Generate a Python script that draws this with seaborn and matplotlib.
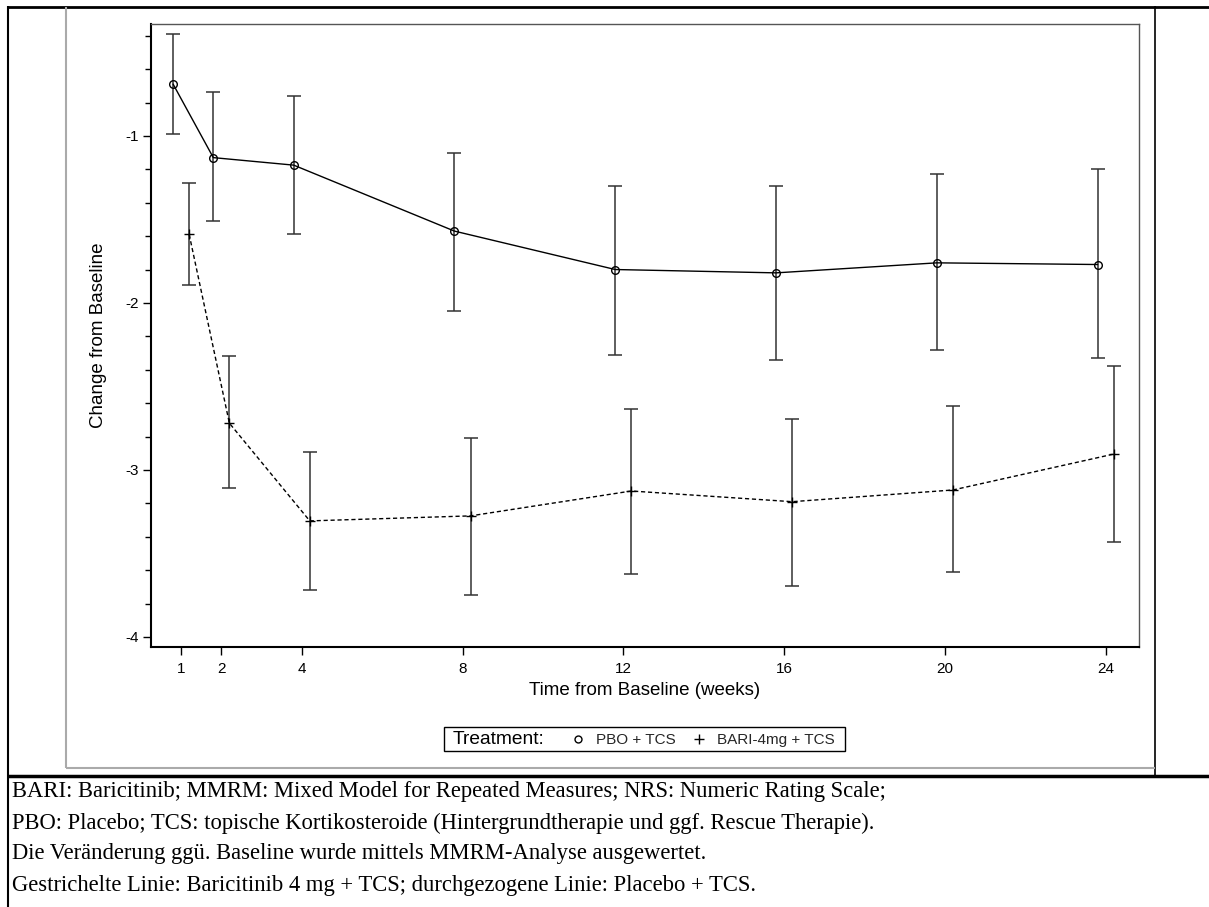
import numpy as np
import pandas as pd
import matplotlib
matplotlib.use("Agg")
import matplotlib.pyplot as plt
from matplotlib.lines import Line2D
from matplotlib.patches import Rectangle
import seaborn as sns

# ---------------- data ----------------
weeks = [1, 2, 4, 8, 12, 16, 20, 24]
pbo_mean = [-0.69, -1.13, -1.175, -1.57, -1.80, -1.82, -1.76, -1.77]
pbo_lower = [-0.99, -1.51, -1.59, -2.05, -2.31, -2.34, -2.28, -2.33]
pbo_upper = [-0.39, -0.74, -0.76, -1.10, -1.30, -1.30, -1.23, -1.20]
bari_mean = [-1.59, -2.72, -3.305, -3.275, -3.126, -3.19, -3.12, -2.905]
bari_lower = [-1.89, -3.11, -3.72, -3.75, -3.62, -3.695, -3.61, -3.43]
bari_upper = [-1.28, -2.32, -2.89, -2.81, -2.635, -2.695, -2.62, -2.38]
groups = ["PBO + TCS", "BARI-4mg + TCS"]
x_ticks = [1, 2, 4, 8, 12, 16, 20, 24]
y_ticks = [-1, -2, -3, -4]
footnotes = [
    "BARI: Baricitinib; MMRM: Mixed Model for Repeated Measures; NRS: Numeric Rating Scale;",
    "PBO: Placebo; TCS: topische Kortikosteroide (Hintergrundtherapie und ggf. Rescue Therapie).",
    "Die Veränderung ggü. Baseline wurde mittels MMRM-Analyse ausgewertet.",
    "Gestrichelte Linie: Baricitinib 4 mg + TCS; durchgezogene Linie: Placebo + TCS.",
]

offsets = {groups[0]: -0.2, groups[1]: 0.2}
df = pd.concat([
    pd.DataFrame({"week": weeks, "mean": pbo_mean, "lower": pbo_lower,
                  "upper": pbo_upper, "Treatment": groups[0]}),
    pd.DataFrame({"week": weeks, "mean": bari_mean, "lower": bari_lower,
                  "upper": bari_upper, "Treatment": groups[1]}),
], ignore_index=True)
df["x"] = df["week"] + df["Treatment"].map(offsets)

# ---------------- style ----------------
sns.set_theme(style="ticks")
plt.rcParams["font.family"] = ["Liberation Sans", "DejaVu Sans"]

W, H = 1209, 907
fig = plt.figure(figsize=(W / 100, H / 100), dpi=100)
fig.patch.set_facecolor("white")

def fx(px):
    return px / W

def fy(py):
    return 1 - py / H

ax = fig.add_axes([fx(151), fy(647), fx(1139) - fx(151), fy(24) - fy(647)])

line_styles = {
    groups[0]: dict(marker="o", linestyle="-", markersize=5.5, markerfacecolor="none"),
    groups[1]: dict(marker="+", linestyle=(0, (3, 2)), markersize=7),
}
for g in groups:
    sub = df[df["Treatment"] == g]
    sns.lineplot(data=sub, x="x", y="mean", color="black", linewidth=1.0,
                 markeredgecolor="black", markeredgewidth=1.0,
                 legend=False, ax=ax, sort=False, estimator=None,
                 zorder=3, **line_styles[g])
    ax.errorbar(sub["x"], sub["mean"],
                yerr=[sub["mean"] - sub["lower"], sub["upper"] - sub["mean"]],
                fmt="none", ecolor="#333333", elinewidth=1.1, capsize=4.7,
                capthick=1.1, zorder=1)

ax.set_xlim(0.25, 24.83)
ax.set_ylim(-4.06, -0.33)
ax.set_xticks(x_ticks)
ax.set_xticklabels([str(t) for t in x_ticks])
ax.set_yticks(y_ticks)
ax.set_yticklabels([str(t) for t in y_ticks])
ax.set_yticks(np.arange(-3.8, -0.3, 0.2), minor=True)
ax.tick_params(axis="both", which="major", direction="out", length=6, width=1,
               color="black", labelsize=11, labelcolor="black")
ax.tick_params(axis="y", which="major", pad=3)
ax.tick_params(axis="x", which="major", pad=5)
ax.tick_params(axis="y", which="minor", direction="out", length=4, width=1, color="black")

for side in ["left", "bottom"]:
    ax.spines[side].set_color("black")
    ax.spines[side].set_linewidth(1.5)
for side in ["top", "right"]:
    ax.spines[side].set_color("#555555")
    ax.spines[side].set_linewidth(1.0)
    ax.spines[side].set_visible(True)

ax.set_xlabel("Time from Baseline (weeks)", fontsize=13.5, color="black")
ax.set_ylabel("Change from Baseline", fontsize=13.5, color="black")
ax.xaxis.set_label_coords(0.5, -0.056)
ax.yaxis.set_label_coords(-0.045, 0.5)

# ---------------- legend ----------------
fig.add_artist(Rectangle((fx(444), fy(751)), fx(845) - fx(444), fy(727) - fy(751),
                         transform=fig.transFigure, fill=False, edgecolor="black",
                         linewidth=1.0))
fig.text(fx(453), fy(740), "Treatment:", fontsize=13.8, ha="left", va="center",
         color="black")
handles = [Line2D([], [], marker="o", linestyle="none", markerfacecolor="none",
                  markeredgecolor="black", markersize=5, markeredgewidth=1.0),
           Line2D([], [], marker="+", linestyle="none", markeredgecolor="black",
                  markersize=7, markeredgewidth=1.0)]
fig.legend(handles, groups, loc="center left", bbox_to_anchor=(fx(570), fy(740)),
           ncol=2, frameon=False, fontsize=11, handlelength=1.0,
           handletextpad=0.7, columnspacing=1.0, borderpad=0, borderaxespad=0)

# ---------------- frame lines ----------------
def hline(y, x0, x1, color="black", lw=2.0):
    fig.add_artist(Line2D([fx(x0), fx(x1)], [fy(y), fy(y)], transform=fig.transFigure,
                          color=color, linewidth=lw, solid_capstyle="butt"))

def vline(x, y0, y1, color="black", lw=2.0):
    fig.add_artist(Line2D([fx(x), fx(x)], [fy(y0), fy(y1)], transform=fig.transFigure,
                          color=color, linewidth=lw, solid_capstyle="butt"))

hline(6.5, 7, 1209, lw=2.0)
hline(776, 7, 1209, lw=2.5)
vline(8, 6, 907, lw=1.5)
vline(1155, 6, 776, lw=1.2)
vline(66, 7, 768, color="#aaaaaa", lw=1.5)
hline(768, 66, 1155, color="#aaaaaa", lw=1.5)

# ---------------- footnotes ----------------
for i, line in enumerate(footnotes):
    fig.text(fx(12), fy(792 + 31 * i), line, fontsize=16.3, ha="left", va="center",
             family=["Liberation Serif", "DejaVu Serif"], color="black")

fig.savefig("out.png", dpi=100, facecolor="white")
